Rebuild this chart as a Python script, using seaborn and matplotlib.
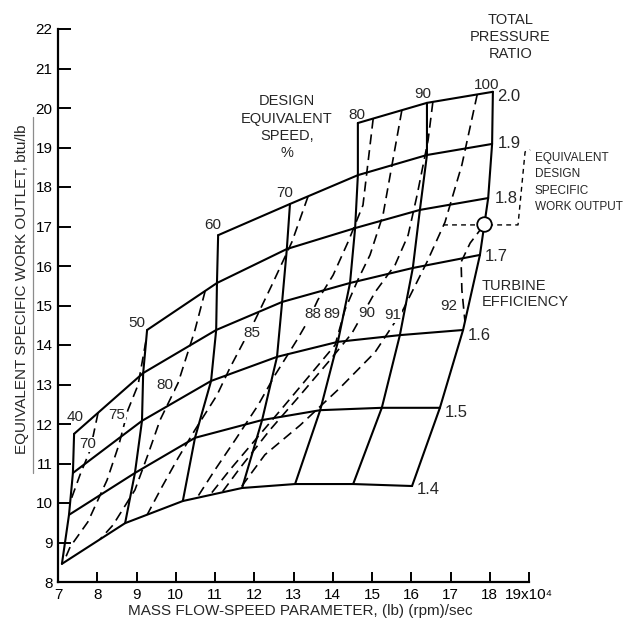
import numpy as np
import pandas as pd
import matplotlib
matplotlib.use("Agg")
import matplotlib.pyplot as plt
import seaborn as sns
from matplotlib import font_manager
from matplotlib.lines import Line2D

# ---------------- data ----------------
speeds = [40, 50, 60, 70, 80, 90, 100]
pressure_ratios = [1.4, 1.5, 1.6, 1.7, 1.8, 1.9, 2.0]
pressure_labels = ["1.4", "1.5", "1.6", "1.7", "1.8", "1.9", "2.0"]

# mass flow-speed parameter / specific work at each speed, from PR 1.4 upward
flow_40 = [7.10, 7.28, 7.38, 7.41]
work_40 = [8.46, 9.70, 10.76, 11.75]
flow_50 = [8.71, 8.96, 9.14, 9.17, 9.27]
work_50 = [9.49, 10.76, 12.08, 13.29, 14.38]
flow_60 = [10.18, 10.49, 10.90, 11.03, 11.05, 11.08]
work_60 = [10.05, 11.65, 13.09, 14.38, 15.57, 16.78]
flow_70 = [11.69, 12.20, 12.58, 12.71, 12.83, 12.91]
work_70 = [10.38, 12.10, 13.70, 15.09, 16.43, 17.57]
flow_80 = [13.04, 13.68, 14.13, 14.44, 14.57, 14.64, 14.64]
work_80 = [10.48, 12.35, 14.08, 15.57, 16.96, 18.30, 19.62]
flow_90 = [14.52, 15.25, 15.71, 16.04, 16.22, 16.40, 16.40]
work_90 = [10.48, 12.41, 14.25, 15.95, 17.42, 18.81, 20.13]
flow_100 = [16.02, 16.73, 17.32, 17.75, 17.96, 18.06, 18.08]
work_100 = [10.43, 12.41, 14.38, 16.28, 17.72, 19.09, 20.41]

# turbine efficiency contours (percent)
eff_levels = [70, 75, 80, 85, 88, 89, 90, 91, 92]
eff70_flow = [8.02, 7.82, 7.56, 7.33]
eff70_work = [12.28, 11.34, 10.71, 10.08]
eff75_flow = [9.24, 9.04, 8.78, 8.55, 8.25, 7.76, 7.31, 7.15]
eff75_work = [14.10, 12.99, 12.35, 11.47, 10.58, 9.52, 8.89, 8.52]
eff80_flow = [10.75, 10.49, 10.06, 9.60, 9.29, 8.96, 8.40, 8.07]
eff80_work = [15.37, 14.38, 13.04, 12.10, 11.22, 10.33, 9.44, 9.08]
eff85_flow = [13.37, 12.96, 12.45, 12.02, 11.38, 11.05, 10.49, 10.06, 9.65, 9.27]
eff85_work = [17.76, 16.61, 15.52, 14.63, 13.42, 12.73, 11.85, 11.14, 10.41, 9.70]
eff88_flow = [15.03, 14.77, 14.39, 14.01, 13.62, 13.37, 13.09, 12.53, 12.10, 11.51, 11.00, 10.54]
eff88_work = [19.73, 17.54, 16.61, 15.77, 15.14, 14.61, 14.13, 13.24, 12.48, 11.59, 10.84, 10.13]
eff89_flow = [15.76, 15.51, 15.28, 14.95, 14.64, 14.31, 14.06, 13.42, 12.78, 12.02, 11.38, 10.87]
eff89_work = [19.94, 18.56, 17.29, 16.28, 15.65, 14.89, 14.00, 13.24, 12.48, 11.59, 10.84, 10.20]
eff90_flow = [16.55, 16.43, 16.15, 15.92, 15.59, 15.08, 14.49, 13.93, 13.17, 12.40, 11.64, 11.18]
eff90_work = [20.15, 19.19, 17.80, 16.78, 16.03, 15.34, 14.30, 13.62, 12.73, 11.85, 10.89, 10.27]
eff91_flow = [17.68, 17.29, 16.86, 16.40, 15.79, 15.08, 14.18, 13.17, 12.27, 11.64]
eff91_work = [20.34, 18.56, 17.11, 16.10, 14.89, 13.82, 12.91, 11.97, 11.22, 10.37]
eff92_flow = [17.83, 17.50, 17.27, 17.29, 17.37]
eff92_work = [17.01, 16.58, 16.10, 15.39, 14.58]

# efficiency label positions
eff_label_flow = [7.76, 8.50, 9.73, 11.94, 13.50, 13.98, 14.87, 15.54, 16.96]
eff_label_work = [11.49, 12.23, 12.99, 14.30, 14.78, 14.78, 14.81, 14.76, 14.99]

# speed label positions
speed_label_flow = [7.43, 9.01, 10.95, 12.78, 14.62, 16.30, 17.93]
speed_label_work = [12.18, 14.56, 17.04, 17.85, 19.82, 20.35, 20.58]

# pressure-ratio label positions
pr_label_flow = [16.15, 16.86, 17.45, 17.88, 18.13, 18.21, 18.20]
pr_label_work = [10.33, 12.30, 14.25, 16.23, 17.70, 19.11, 20.30]

# design point and its reference line
design_flow = [17.85]
design_work = [17.06]
design_line_flow = [16.81, 18.72, 18.90, 19.03]
design_line_work = [17.04, 17.04, 18.89, 18.94]

x_ticks = list(range(7, 20))
x_tick_labels = [str(v) for v in range(7, 19)] + ["19x10\u2074"]
y_ticks = list(range(8, 23))

# ---------------- tables ----------------
flows = [flow_40, flow_50, flow_60, flow_70, flow_80, flow_90, flow_100]
works = [work_40, work_50, work_60, work_70, work_80, work_90, work_100]
rows = []
for s, fl, wk in zip(speeds, flows, works):
    for j, (f, w) in enumerate(zip(fl, wk)):
        rows.append({"speed": s, "pr": pressure_ratios[j], "flow": f, "work": w})
nodes = pd.DataFrame(rows)

eff_flows = [eff70_flow, eff75_flow, eff80_flow, eff85_flow, eff88_flow,
             eff89_flow, eff90_flow, eff91_flow, eff92_flow]
eff_works = [eff70_work, eff75_work, eff80_work, eff85_work, eff88_work,
             eff89_work, eff90_work, eff91_work, eff92_work]
erows = []
for lev, fl, wk in zip(eff_levels, eff_flows, eff_works):
    for f, w in zip(fl, wk):
        erows.append({"eff": lev, "flow": f, "work": w})
eff_df = pd.DataFrame(erows)

design_df = pd.DataFrame({"flow": design_flow, "work": design_work})
design_line_df = pd.DataFrame({"flow": design_line_flow, "work": design_line_work, "g": 0})

# ---------------- style ----------------
sns.set_style("ticks")
names = {f.name for f in font_manager.fontManager.ttflist}
REG = ["Liberation Sans", "DejaVu Sans"]
if "Liberation Sans Narrow" in names:
    NARROW = ["Liberation Sans Narrow", "Liberation Sans", "DejaVu Sans"]
else:
    NARROW = REG
plt.rcParams["font.family"] = REG

fig = plt.figure(figsize=(6.29, 6.31), dpi=100)
ax = fig.add_axes([58 / 629, 49 / 631, 471 / 629, 553 / 631])

# efficiency contours (dashed)
sns.lineplot(data=eff_df, x="flow", y="work", units="eff", estimator=None, sort=False,
             color="black", lw=1.2, linestyle=(0, (6, 3.5)), ax=ax, legend=False, zorder=1.5)
# speed lines
sns.lineplot(data=nodes.sort_values(["speed", "pr"]), x="flow", y="work", units="speed",
             estimator=None, sort=False, color="black", lw=1.5, ax=ax, legend=False, zorder=2.5)
# pressure-ratio lines
sns.lineplot(data=nodes.sort_values(["pr", "speed"]), x="flow", y="work", units="pr",
             estimator=None, sort=False, color="black", lw=1.5, ax=ax, legend=False, zorder=2.5)
# design reference line
sns.lineplot(data=design_line_df, x="flow", y="work", units="g", estimator=None, sort=False,
             color="black", lw=1.0, linestyle=(0, (3.5, 3)), ax=ax, legend=False, zorder=2,
             clip_on=False)
sns.scatterplot(data=design_df, x="flow", y="work", marker="o", s=110, color="white",
                edgecolor="black", linewidth=1.3, ax=ax, zorder=4, legend=False)

ax.set_xlim(7, 19)
ax.set_ylim(8, 22)
ax.set_xticks(x_ticks)
ax.set_xticklabels(x_tick_labels)
ax.set_yticks(y_ticks)
ax.tick_params(axis="x", direction="in", length=7.5, width=1.4, pad=4, labelsize=11, colors="black")
ax.tick_params(axis="y", direction="in", length=9.5, width=1.4, pad=4, labelsize=11, colors="black")
for lab in ax.get_xticklabels() + ax.get_yticklabels():
    lab.set_family(NARROW)
sns.despine(ax=ax)
for sp in ["left", "bottom"]:
    ax.spines[sp].set_linewidth(1.6)
    ax.spines[sp].set_color("black")

ax.set_xlabel("MASS FLOW-SPEED PARAMETER, (lb) (rpm)/sec", fontsize=11)
ax.set_ylabel("EQUIVALENT SPECIFIC WORK OUTLET, btu/lb", fontsize=11)
ax.xaxis.set_label_coords(0.514, -0.040)
ax.yaxis.set_label_coords(-0.062, 0.530)
fig.add_artist(Line2D([33 / 629, 33 / 629], [1 - 117 / 631, 1 - 473 / 631],
                      transform=fig.transFigure, color="0.55", lw=0.9))

# labels on the map
for s, fx, wy in zip(speeds, speed_label_flow, speed_label_work):
    ax.text(fx, wy, str(s), ha="center", va="center", fontsize=11, family=NARROW, zorder=5)
for p, fx, wy in zip(pressure_labels, pr_label_flow, pr_label_work):
    ax.text(fx, wy, p, ha="left", va="center", fontsize=12, family=NARROW, zorder=5)
for e, fx, wy in zip(eff_levels, eff_label_flow, eff_label_work):
    ax.text(fx, wy, str(e), ha="center", va="center", fontsize=11, family=NARROW, zorder=2,
            bbox=dict(facecolor="white", edgecolor="none", pad=0.4))

ax.text(12.83, 19.51, "DESIGN\nEQUIVALENT\nSPEED,\n%", ha="center", va="center",
        multialignment="center", fontsize=10.5, linespacing=1.3)
ax.text(18.52, 21.80, "TOTAL\nPRESSURE\nRATIO", ha="center", va="center",
        multialignment="center", fontsize=10.5, family=NARROW, linespacing=1.3)
ax.text(17.80, 15.29, "TURBINE\nEFFICIENCY", ha="left", va="center", fontsize=10.5,
        family=NARROW, linespacing=1.2)
ax.text(19.15, 18.11, "EQUIVALENT\nDESIGN\nSPECIFIC\nWORK OUTPUT", ha="left", va="center",
        fontsize=8.5, family=NARROW, linespacing=1.5, clip_on=False)

fig.savefig("out.png", dpi=100)
